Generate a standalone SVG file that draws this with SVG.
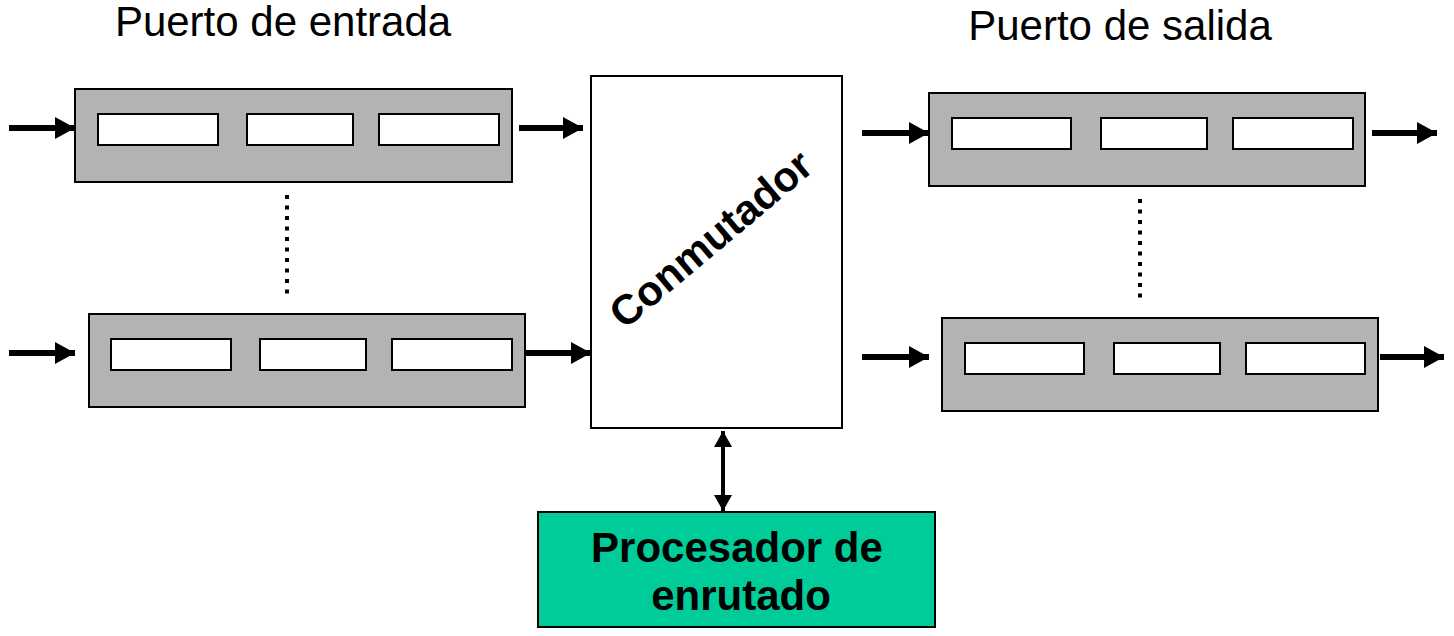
<svg xmlns="http://www.w3.org/2000/svg" width="1454" height="636" viewBox="0 0 1454 636">
<style>
.port{fill:#b3b3b3;stroke:#000;stroke-width:2}
.cell{fill:#fff;stroke:#000;stroke-width:2}
.arr{stroke:#000;stroke-width:6;fill:none;marker-end:url(#ah)}
.dots{stroke:#000;stroke-width:4;stroke-dasharray:4 6.5}
.t{font-family:"Liberation Sans",Arial,sans-serif;fill:#000}
</style>
<defs>
<marker id="ah" markerUnits="userSpaceOnUse" markerWidth="20" markerHeight="22" refX="20" refY="11" orient="auto">
<path d="M0,0 L20,11 L0,22 Z" fill="#000"/>
</marker>
<marker id="ah2" markerUnits="userSpaceOnUse" markerWidth="16" markerHeight="18" refX="16" refY="9" orient="auto-start-reverse">
<path d="M0,0 L16,9 L0,18 Z" fill="#000"/>
</marker>
</defs>
<text class="t" x="283" y="36" font-size="42" text-anchor="middle">Puerto de entrada</text>
<text class="t" x="1120" y="40" font-size="42" text-anchor="middle">Puerto de salida</text>
<g id="in1">
<rect class="port" x="75" y="89" width="437" height="93"/>
<rect class="cell" x="98" y="114" width="120" height="31"/>
<rect class="cell" x="247" y="114" width="106" height="31"/>
<rect class="cell" x="379" y="114" width="120" height="31"/>
</g>
<g id="in2">
<rect class="port" x="89" y="314" width="436" height="93"/>
<rect class="cell" x="111" y="339" width="120" height="31"/>
<rect class="cell" x="260" y="339" width="106" height="31"/>
<rect class="cell" x="392" y="339" width="120" height="31"/>
</g>
<g id="out1">
<rect class="port" x="929" y="93" width="436" height="93"/>
<rect class="cell" x="952" y="118" width="119" height="31"/>
<rect class="cell" x="1101" y="118" width="106" height="31"/>
<rect class="cell" x="1233" y="118" width="120" height="31"/>
</g>
<g id="out2">
<rect class="port" x="942" y="318" width="436" height="93"/>
<rect class="cell" x="965" y="343" width="119" height="31"/>
<rect class="cell" x="1114" y="343" width="106" height="31"/>
<rect class="cell" x="1246" y="343" width="119" height="31"/>
</g>
<g id="switch">
<rect x="591" y="76" width="251" height="352" fill="#fff" stroke="#000" stroke-width="2"/>
<text class="t" font-size="42" font-weight="bold" text-anchor="middle" transform="translate(720,250) rotate(-40)">Conmutador</text>
</g>
<g id="router">
<rect x="538" y="512" width="397" height="115" fill="#00cc99" stroke="#000" stroke-width="2"/>
<text class="t" x="737" y="562" font-size="42" font-weight="bold" text-anchor="middle">Procesador de</text>
<text class="t" x="741" y="610" font-size="42" font-weight="bold" text-anchor="middle">enrutado</text>
</g>
<g id="connectors">
<line class="arr" x1="9" y1="128" x2="75" y2="128"/>
<line class="arr" x1="519" y1="128" x2="583" y2="128"/>
<line class="arr" x1="9" y1="353" x2="75" y2="353"/>
<line class="arr" x1="526" y1="353" x2="591" y2="353"/>
<line class="arr" x1="862" y1="133" x2="929" y2="133"/>
<line class="arr" x1="1372" y1="133" x2="1437" y2="133"/>
<line class="arr" x1="862" y1="357" x2="929" y2="357"/>
<line class="arr" x1="1380" y1="357" x2="1444" y2="357"/>
<line x1="723" y1="431" x2="723" y2="511" stroke="#000" stroke-width="4" marker-start="url(#ah2)" marker-end="url(#ah2)"/>
<line class="dots" x1="287" y1="195" x2="287" y2="300"/>
<line class="dots" x1="1140" y1="199" x2="1140" y2="304"/>
</g>
</svg>
